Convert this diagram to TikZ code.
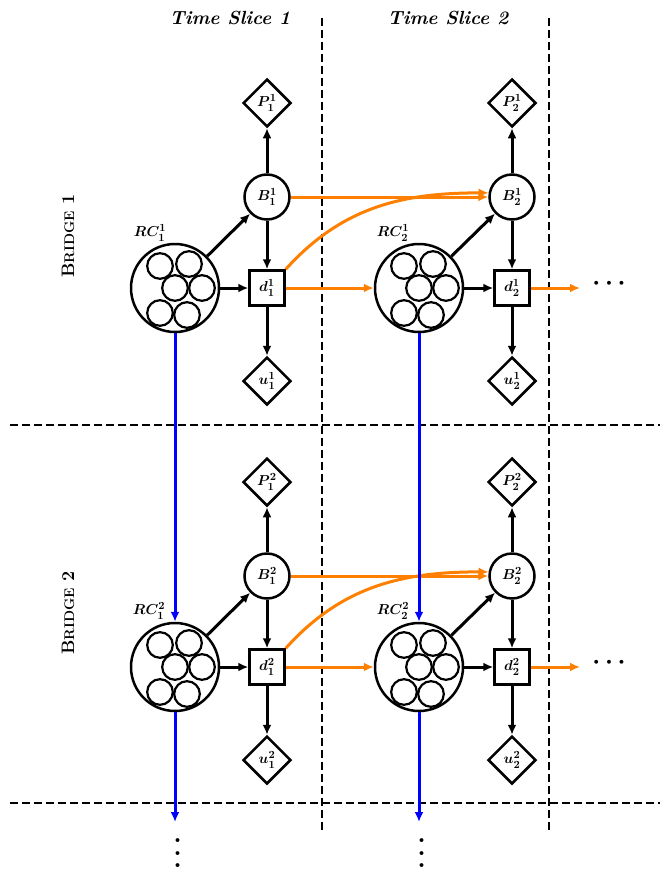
\documentclass[tikz,border=0pt]{standalone}
\usetikzlibrary{shapes.geometric,arrows.meta}
\definecolor{orng}{RGB}{255,128,0}
\definecolor{blu}{RGB}{0,0,255}
\begin{document}
\begin{tikzpicture}[x=1pt,y=-1pt,
  lab/.style={font=\fontsize{15}{15}\selectfont\boldmath},
  diam/.style={diamond,draw,line width=2.5pt,minimum width=48pt,minimum height=48pt,inner sep=0pt,lab},
  bnode/.style={circle,draw,line width=2.5pt,minimum size=45pt,inner sep=0pt,lab},
  dnode/.style={rectangle,draw,line width=2.5pt,minimum size=35pt,inner sep=0pt,lab},
  rcnode/.style={circle,draw,line width=2.5pt,minimum size=88pt,inner sep=0pt},
  arr/.style={-{Latex[length=10pt,width=9pt]},line width=3pt},
  oarr/.style={arr,draw=orng,color=orng},
  barr/.style={arr,draw=blu,color=blu},
  sepline/.style={line width=2.8pt,dash pattern=on 8pt off 4pt},
  ttl/.style={font=\fontsize{19}{20}\selectfont\bfseries\itshape},
  brg/.style={font=\fontsize{18}{20}\selectfont\bfseries,rotate=90},
  dotsty/.style={font=\fontsize{30}{30}\selectfont\boldmath,inner sep=0pt}
]
\useasboundingbox (0,0) rectangle (670,870);

% separators
\coordinate (v1t) at (322,18); \coordinate (v1b) at (322,830);
\coordinate (v2t) at (549,18); \coordinate (v2b) at (549,830);
\coordinate (h1l) at (10,425); \coordinate (h1r) at (660,425);
\coordinate (h2l) at (10,803); \coordinate (h2r) at (660,803);
\draw[sepline] (v1t) -- (v1b);
\draw[sepline] (v2t) -- (v2b);
\draw[sepline] (h1l) -- (h1r);
\draw[sepline] (h2l) -- (h2r);

% titles
\node[ttl] (ts1) at (230,18) {Time Slice 1};
\node[ttl] (ts2) at (448,18) {Time Slice 2};
\node[brg] (br1) at (68,236) {B{\fontsize{14}{16}\selectfont RIDGE} 1};
\node[brg] (br2) at (68,613) {B{\fontsize{14}{16}\selectfont RIDGE} 2};

% Bridge 1, slice 1
\node[diam] (P11) at (267,103) {$P^1_1$};
\node[bnode] (B11) at (267,197) {$B^1_1$};
\node[dnode] (d11) at (267,288) {$d^1_1$};
\node[diam] (u11) at (267,381) {$u^1_1$};
\node[rcnode] (RC11) at (175,288) {};
\node[lab] (RC11l) at (150,233) {$RC^1_1$};
% Bridge 1, slice 2
\node[diam] (P12) at (512,103) {$P^1_2$};
\node[bnode] (B12) at (512,197) {$B^1_2$};
\node[dnode] (d12) at (512,288) {$d^1_2$};
\node[diam] (u12) at (512,381) {$u^1_2$};
\node[rcnode] (RC12) at (419,288) {};
\node[lab] (RC12l) at (393,233) {$RC^1_2$};
% Bridge 2, slice 1
\node[diam] (P21) at (267,482) {$P^2_1$};
\node[bnode] (B21) at (267,576) {$B^2_1$};
\node[dnode] (d21) at (267,667) {$d^2_1$};
\node[diam] (u21) at (267,760) {$u^2_1$};
\node[rcnode] (RC21) at (175,667) {};
\node[lab] (RC21l) at (149,611) {$RC^2_1$};
% Bridge 2, slice 2
\node[diam] (P22) at (512,482) {$P^2_2$};
\node[bnode] (B22) at (512,576) {$B^2_2$};
\node[dnode] (d22) at (512,667) {$d^2_2$};
\node[diam] (u22) at (512,760) {$u^2_2$};
\node[rcnode] (RC22) at (419,667) {};
\node[lab] (RC22l) at (393,611) {$RC^2_2$};

% small circles inside RC nodes
\foreach \rc in {RC11,RC12,RC21,RC22}{
  \begin{scope}[shift={(\rc.center)},line width=2.2pt]
    \foreach \dx/\dy in {-15/-22,14/-24,0/0,27/0,-15/25,12/27}
      \draw (\dx,\dy) circle[radius=12.8pt];
  \end{scope}
}

% black arrows
\foreach \b in {11,12,21,22}{
  \draw[arr] (B\b) -- (P\b);
  \draw[arr] (B\b) -- (d\b);
  \draw[arr] (d\b) -- (u\b);
  \draw[arr] (RC\b) -- (B\b);
  \draw[arr] (RC\b) -- (d\b);
}

% orange arrows
\coordinate (o1) at (580,288);
\coordinate (o2) at (580,667);
\node[dotsty] (dots1) at (609,284) {$\cdots$};
\node[dotsty] (dots2) at (609,663) {$\cdots$};
\draw[oarr] (B11.east) -- (B12.west);
\draw[oarr] (d11.north east) to[out=48,in=180] (B12.170);
\draw[oarr] (d11) -- (RC12);
\draw[oarr] (d12) -- (o1);
\draw[oarr] (B21.east) -- (B22.west);
\draw[oarr] (d21.north east) to[out=48,in=180] (B22.170);
\draw[oarr] (d21) -- (RC22);
\draw[oarr] (d22) -- (o2);

% blue arrows
\coordinate (e1) at (175,822);
\coordinate (e2) at (419,822);
\draw[barr] (RC11) -- (RC21);
\draw[barr] (RC21) -- (e1);
\draw[barr] (RC12) -- (RC22);
\draw[barr] (RC22) -- (e2);
\node[dotsty,rotate=90] (vd1) at (178,853) {$\cdots$};
\node[dotsty,rotate=90] (vd2) at (422,853) {$\cdots$};
\end{tikzpicture}
\end{document}
